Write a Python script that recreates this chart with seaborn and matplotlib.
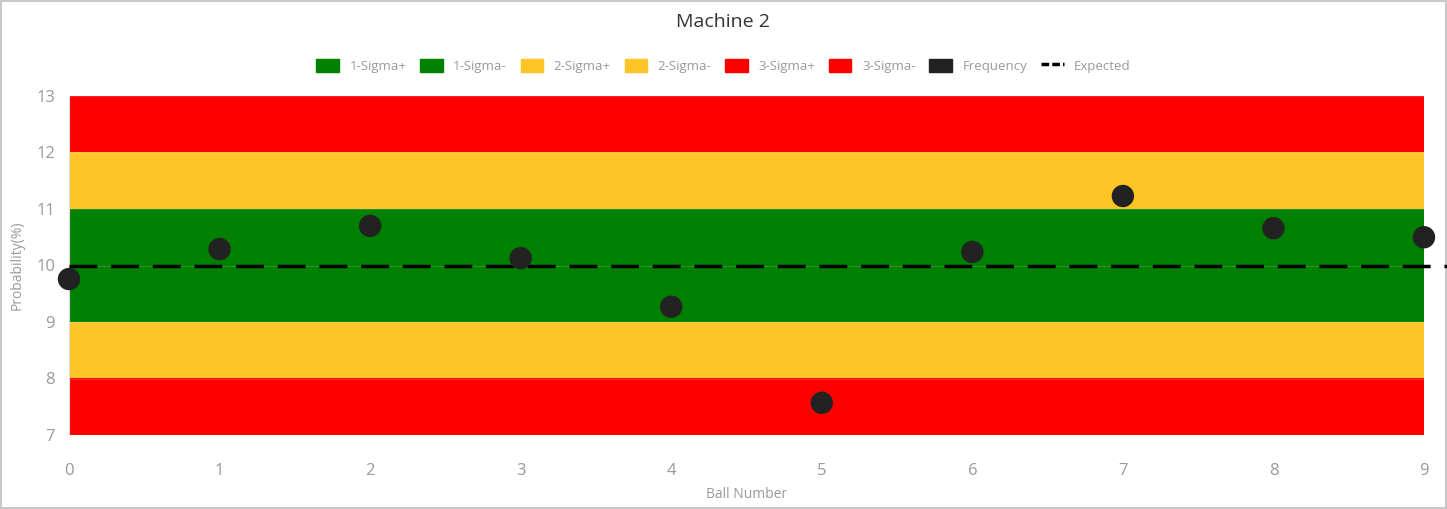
import numpy as np
import pandas as pd
import matplotlib
matplotlib.use("Agg")
import matplotlib.pyplot as plt
import matplotlib.patches as mpatches
from matplotlib.lines import Line2D
import seaborn as sns

# data
balls = [0, 1, 2, 3, 4, 5, 6, 7, 8, 9]
frequency = [9.76, 10.29, 10.70, 10.13, 9.27, 7.57, 10.24, 11.23, 10.66, 10.50]
expected_x = [0, 10]
expected_y = [10, 10]

band_names = ["1-Sigma+", "1-Sigma-", "2-Sigma+", "2-Sigma-", "3-Sigma+", "3-Sigma-"]
band_low = [10, 9, 11, 8, 12, 7]
band_high = [11, 10, 12, 9, 13, 8]
band_colors = ["#008000", "#008000", "#FFC425", "#FFC425", "#FF0000", "#FF0000"]

sns.set_style("white")
plt.rcParams["font.family"] = ["Open Sans", "DejaVu Sans"]

fig = plt.figure(figsize=(14.47, 5.09), dpi=100)
fig.patch.set_edgecolor("#c8c8c8")
fig.patch.set_linewidth(1.5)
ax = fig.add_axes([69 / 1447, 1 - 435 / 509, (1424 - 69) / 1447, (435 - 96) / 509])

for name, lo, hi, c in zip(band_names, band_low, band_high, band_colors):
    ax.fill_between([balls[0], balls[-1]], lo, hi, color=c, linewidth=0, zorder=1)
    ax.plot([balls[0], balls[-1]], [hi, hi], color="white", alpha=0.15, lw=1, zorder=1.5)

df = pd.DataFrame({"ball": balls, "freq": frequency})
sns.scatterplot(data=df, x="ball", y="freq", ax=ax, s=260, color="#222222",
                edgecolor="none", zorder=4, clip_on=False, legend=False)
exp = pd.DataFrame({"x": expected_x, "y": expected_y})
sns.lineplot(data=exp, x="x", y="y", ax=ax, color="black", lw=2.5,
             zorder=3, legend=False)
for l in ax.lines[-1:]:
    l.set_dashes([8, 4])
    l.set_clip_on(False)

ax.set_xlim(0, 9)
ax.set_ylim(7, 13)
ax.set_xticks(balls)
ax.set_yticks(range(7, 14))
for s in ["top", "right", "bottom"]:
    ax.spines[s].set_visible(False)
ax.spines["left"].set_color("#dddddd")
ax.tick_params(axis="both", colors="#999999", labelsize=12)
ax.tick_params(axis="x", length=14, width=1, color="#e6e6e6", pad=6)
ax.tick_params(axis="y", length=0, pad=10)
ax.set_xlabel("Ball Number", color="#999999", fontsize=10, labelpad=6)
ax.set_ylabel("Probability(%)", color="#999999", fontsize=10, labelpad=8)

fig.suptitle("Machine 2", y=1 - 22 / 509, va="center", fontsize=14, color="#333333")

handles = [mpatches.Patch(color=c, label=n) for n, c in zip(band_names, band_colors)]
handles.append(mpatches.Patch(color="#222222", label="Frequency"))
handles.append(Line2D([0], [0], color="black", lw=2.5, dashes=[2.2, 0.9], label="Expected"))
leg = fig.legend(handles=handles, loc="center", bbox_to_anchor=(0.5, 1 - 66 / 509),
                 ncol=8, frameon=False, fontsize=9.5, handlelength=1.7, handleheight=1.15,
                 columnspacing=1.05, handletextpad=0.8)
for t in leg.get_texts():
    t.set_color("#999999")

fig.savefig("out.png", dpi=100, edgecolor=fig.get_edgecolor())
